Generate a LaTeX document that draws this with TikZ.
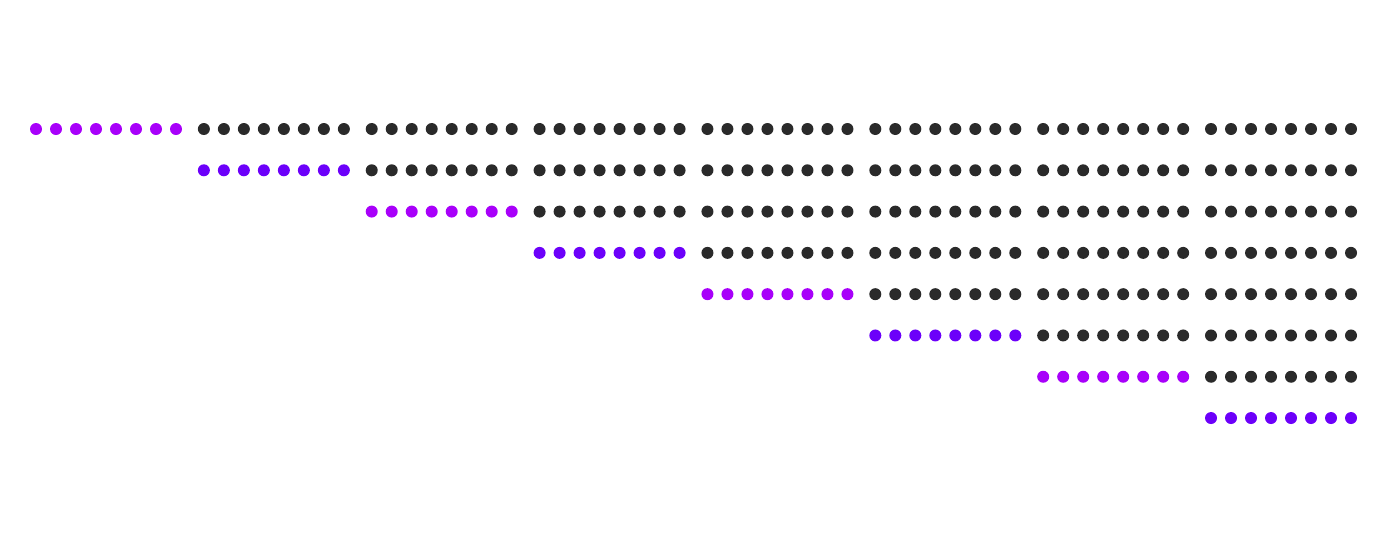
\documentclass[tikz,border=0pt]{standalone}
\usepackage{tikz}
\definecolor{lilac}{HTML}{A800FA}
\definecolor{violet}{HTML}{6C00FA}
\definecolor{coal}{HTML}{2A2A2A}
\tikzset{
	dot/.style={circle, fill=#1, draw=none, inner sep=0pt, minimum size=6pt},
}
\begin{document}
	\begin{tikzpicture}[x=0.5pt, y=-0.5pt]
		\useasboundingbox (0,0) rectangle (1392,538);

		% one row per block, the block itself coloured, the rest dark
		\foreach \r in {0,...,7} {
			\pgfmathsetmacro{\yy}{129 + \r*41.29}
			\pgfmathtruncatemacro{\odd}{mod(\r,2)}
			\ifnum\odd=0 \def\rowcol{lilac}\else\def\rowcol{violet}\fi
			\foreach \g in {\r,...,7} {
				\ifnum\g=\r \def\dotcol{\rowcol}\else\def\dotcol{coal}\fi
				\foreach \k in {0,...,7} {
					\node[dot=\dotcol] (d-\r-\g-\k) at ({36 + \g*167.86 + \k*20}, \yy) {};
				}
			}
		}

	\end{tikzpicture}
\end{document}
